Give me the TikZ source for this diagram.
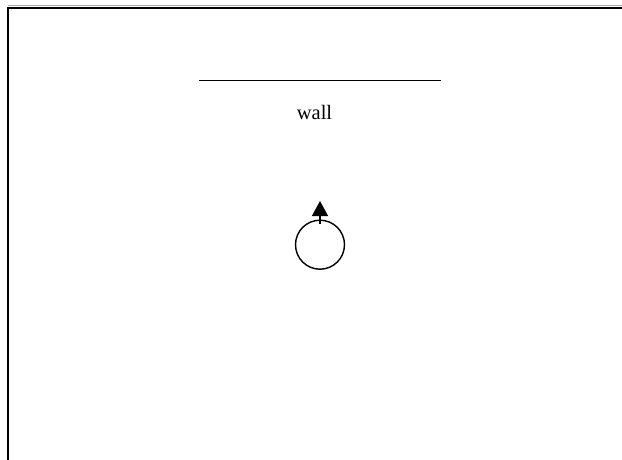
\documentclass[tikz,border=0pt]{standalone}
\usepackage{fontspec}
\setmainfont{Liberation Serif}
\usetikzlibrary{arrows.meta}
\begin{document}
\begin{tikzpicture}[x=1pt,y=-1pt,
  frameline/.style={line width=2pt,black},
  wallline/.style={line width=1.4pt,black},
  robotbody/.style={circle,draw=black,line width=1.4pt,minimum size=49pt,inner sep=0pt},
  heading/.style={line width=1.4pt,-{Triangle[length=15pt,width=16pt]}},
  lbl/.style={font=\fontsize{20.5}{24}\selectfont,inner sep=0pt}]
\useasboundingbox (0,0) rectangle (622,460);
% frame
\coordinate (fTL) at (8,8);
\coordinate (fTR) at (622,8);
\coordinate (fBL) at (8,460);
\coordinate (gL) at (8,5.5);
\coordinate (gR) at (622,5.5);
\draw[gray!70,line width=1pt] (gL) -- (gR);
\draw[frameline] (fBL) -- (fTL) -- (fTR);
% wall
\coordinate (wallL) at (199,80.5);
\coordinate (wallR) at (441,80.5);
\draw[wallline] (wallL) -- (wallR);
\node[lbl,anchor=base] (walltext) at (314.5,119.3) {wall};
% robot
\node[robotbody] (robot) at (320,244.7) {};
\coordinate (hstart) at (320,224);
\coordinate (htip) at (320,201);
\draw[heading] (hstart) -- (htip);
\end{tikzpicture}
\end{document}
